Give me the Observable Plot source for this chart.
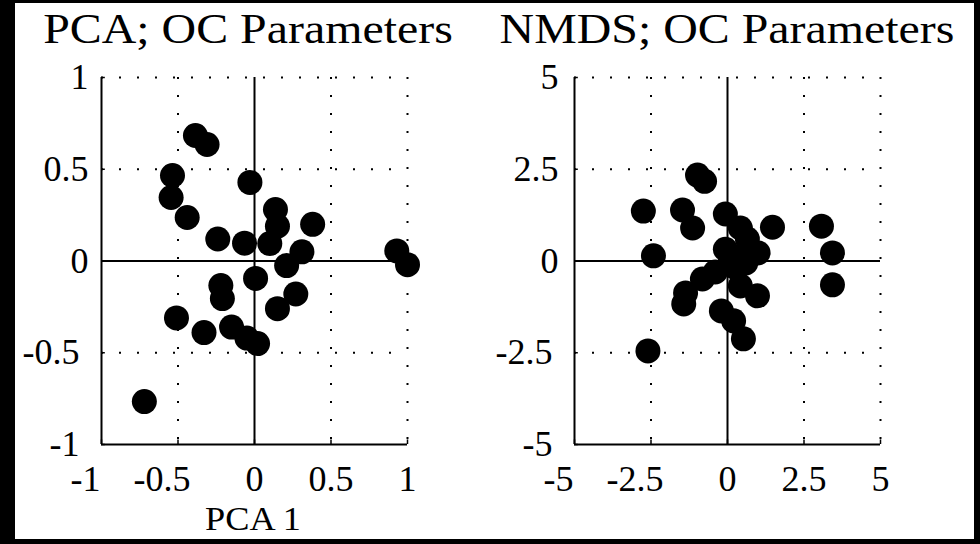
<!DOCTYPE html>
<html>
<head>
<meta charset="utf-8">
<script src="https://cdn.jsdelivr.net/npm/d3@7"></script>
<script src="https://cdn.jsdelivr.net/npm/@observablehq/plot@0.6"></script>
<style>
  html, body { margin: 0; padding: 0; background: #000; width: 980px; height: 544px; overflow: hidden; }
  #frame { position: absolute; left: 15px; top: 3px; width: 959px; height: 536px; background: #fff; overflow: hidden; }
  .title { position: absolute; top: 5px; width: 500px; text-align: center; font-family: "Liberation Serif", serif; font-size: 42px; line-height: 42px; color: #000; transform: scaleX(1.14); white-space: nowrap; }
  .xlabel { position: absolute; width: 200px; text-align: center; font-family: "Liberation Serif", serif; font-size: 33px; line-height: 33px; color: #000; transform: scaleX(1.1); white-space: nowrap; }
  .panel { position: absolute; top: 57px; }
</style>
</head>
<body>
<div id="frame">
  <div class="title" style="left:-17px">PCA; OC Parameters</div>
  <div class="title" style="left:462px">NMDS; OC Parameters</div>
  <div class="panel" id="left" style="left:0px"></div>
  <div class="panel" id="right" style="left:475px"></div>
  <div class="xlabel" style="left:138px; top:500px">PCA 1</div>
</div>
<script>
// ---- Data ----
const pcaTitle = "PCA; OC Parameters";
const nmdsTitle = "NMDS; OC Parameters";
const pcaXLabel = "PCA 1";

const pcaTicks = [-1, -0.5, 0, 0.5, 1];
const pcaGrid = [-0.5, 0.5, 1];
const pca1 = [-0.386, -0.31, -0.536, -0.545, -0.44, -0.03, -0.24, -0.065, 0.137, 0.15, 0.10, 0.38, 0.31, 0.93, 1.0, 0.21, 0.007, -0.22, -0.21, 0.27, 0.15, -0.51, -0.33, -0.15, -0.05, 0.02, -0.72];
const pca2 = [0.684, 0.635, 0.466, 0.346, 0.237, 0.428, 0.12, 0.097, 0.28, 0.19, 0.095, 0.20, 0.05, 0.055, -0.02, -0.025, -0.095, -0.134, -0.205, -0.18, -0.26, -0.31, -0.39, -0.36, -0.42, -0.45, -0.766];

const nmdsTicks = [-5, -2.5, 0, 2.5, 5];
const nmdsGrid = [-2.5, 2.5, 5];
const nmds1 = [-2.75, -1.47, -1.14, -0.98, -0.75, -0.07, -2.42, 1.47, 3.07, 3.43, 3.43, 0.42, 0.65, -0.07, 1.0, 0.4, 0.6, 0.3, -0.4, -0.82, -1.37, -1.43, 0.42, 0.98, -0.2, 0.2, 0.52, -2.6, 0.1];
const nmds2 = [1.36, 1.39, 0.90, 2.34, 2.17, 1.28, 0.14, 0.92, 0.95, 0.22, -0.65, 0.90, 0.6, 0.32, 0.22, 0.1, -0.05, -0.2, -0.3, -0.49, -0.87, -1.17, -0.68, -0.95, -1.36, -1.63, -2.12, -2.45, 0.05];

// ---- Chart builder ----
function panel(xs, ys, ticks, grid, opts) {
  const data = xs.map((x, i) => ({x, y: ys[i]}));
  const lo = ticks[0], hi = ticks[ticks.length - 1];
  const tickLen = (hi - lo) * 0.0125;
  const neg = ticks.filter(t => t < 0);
  const nonneg = ticks.filter(t => t >= 0);
  const fmt = d => String(d);
  const fs = 36;
  return Plot.plot({
    width: 475,
    height: 470,
    marginLeft: opts.marginLeft,
    marginRight: opts.marginRight,
    marginTop: 17,
    marginBottom: 86,
    x: {domain: [lo, hi]},
    y: {domain: [lo, hi]},
    style: {fontFamily: "'Liberation Serif', serif", fontSize: "36px", color: "#000", background: "transparent", overflow: "visible"},
    marks: [
      Plot.ruleX(grid, {x: d => d, stroke: "#000", strokeWidth: 2, strokeDasharray: "2 16"}),
      Plot.ruleY(grid, {y: d => d, stroke: "#000", strokeWidth: 2, strokeDasharray: "2 16"}),
      Plot.ruleX([lo, 0], {x: d => d, stroke: "#000", strokeWidth: 2}),
      Plot.ruleY([lo, 0], {y: d => d, stroke: "#000", strokeWidth: 2}),
      Plot.ruleX(ticks, {x: d => d, y1: lo, y2: lo + tickLen, stroke: "#000", strokeWidth: 1.5}),
      Plot.ruleY(ticks, {y: d => d, x1: lo, x2: lo + tickLen, stroke: "#000", strokeWidth: 1.5}),
      Plot.axisX(nonneg, {tickSize: 0, tickPadding: 21, fontSize: fs, tickFormat: fmt, label: null}),
      Plot.axisX(neg, {tickSize: 0, tickPadding: 21, fontSize: fs, tickFormat: fmt, label: null, dx: -16}),
      Plot.axisY(nonneg, {tickSize: 0, tickPadding: opts.padPos, fontSize: fs, tickFormat: fmt, label: null}),
      Plot.axisY(neg, {tickSize: 0, tickPadding: 22, fontSize: fs, tickFormat: fmt, label: null}),
      Plot.dot(data, {x: "x", y: "y", r: 12.5, fill: "#000", stroke: "none"})
    ]
  });
}

document.getElementById("left").append(panel(pca1, pca2, pcaTicks, pcaGrid, {marginLeft: 86, marginRight: 83, padPos: 13}));
document.getElementById("right").append(panel(nmds1, nmds2, nmdsTicks, nmdsGrid, {marginLeft: 84, marginRight: 85, padPos: 16}));
</script>
</body>
</html>
